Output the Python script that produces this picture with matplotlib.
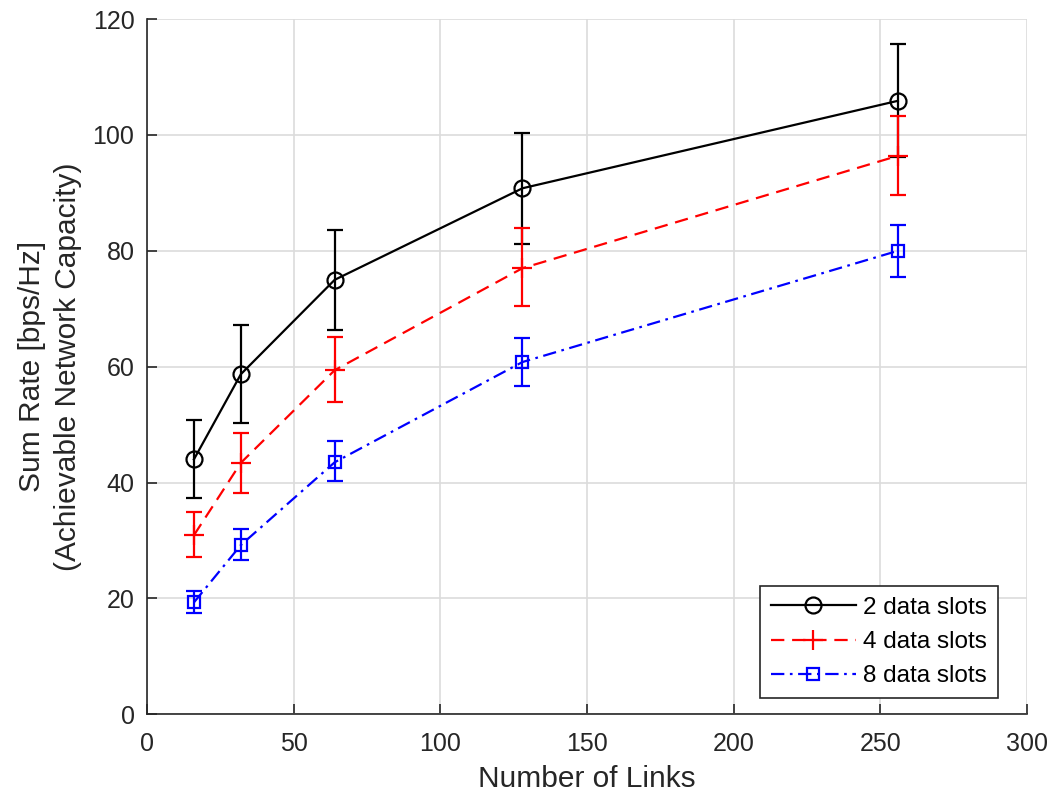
import numpy as np
import matplotlib.pyplot as plt
from matplotlib.lines import Line2D

plt.rcParams['font.family'] = ['Liberation Sans', 'DejaVu Sans']

links = [16, 32, 64, 128, 256]

rate2 = [44.0, 58.7, 75.0, 90.8, 105.9]
low2 = [37.3, 50.3, 66.3, 81.2, 96.2]
high2 = [50.8, 67.2, 83.6, 100.3, 115.7]

rate4 = [30.9, 43.4, 59.4, 77.0, 96.4]
low4 = [27.1, 38.2, 53.9, 70.5, 89.6]
high4 = [34.9, 48.5, 65.1, 83.9, 103.3]

rate8 = [19.3, 29.2, 43.5, 60.8, 80.0]
low8 = [17.5, 26.6, 40.2, 56.7, 75.4]
high8 = [21.2, 32.0, 47.2, 65.0, 84.4]

fig = plt.figure(figsize=(10.5, 7.98), dpi=100)
ax = fig.add_axes([0.14, 0.105, 0.838, 0.871])

lw = 1.6
series = [
    (rate2, low2, high2, 'k', '-', 'o', 11.5, '2 data slots'),
    (rate4, low4, high4, 'r', (0, (6, 3.5)), '+', 15, '4 data slots'),
    (rate8, low8, high8, 'b', (0, (6, 2.5, 1.2, 2.5)), 's', 9, '8 data slots'),
]
handles = []
for y, lo, hi, c, ls, m, ms, lab in series:
    y = np.array(y)
    err = [y - np.array(lo), np.array(hi) - y]
    ax.errorbar(links, y, yerr=err, color=c, linestyle=ls, marker=m,
                markersize=ms, markerfacecolor='none', markeredgewidth=lw,
                linewidth=lw, elinewidth=lw, capsize=6, capthick=lw)
    handles.append(Line2D([], [], color=c, linestyle=ls, marker=m,
                          markersize=ms, markerfacecolor='none',
                          markeredgewidth=lw, linewidth=lw, label=lab))

ax.set_xlim(0, 300)
ax.set_ylim(0, 120)
ax.set_xticks(range(0, 301, 50))
ax.set_yticks(range(0, 121, 20))
ax.grid(True, color='#dcdcdc', linewidth=1.2)
ax.set_axisbelow(True)
ax.spines['top'].set_visible(False)
ax.spines['right'].set_visible(False)
for s in ['left', 'bottom']:
    ax.spines[s].set_color('#262626')
    ax.spines[s].set_linewidth(1.2)
ax.tick_params(direction='in', labelsize=18, length=7, width=1.2,
               pad=9, colors='#262626', labelcolor='#262626')
ax.tick_params(axis='x', pad=13)
ax.set_xlabel('Number of Links', fontsize=21.5, color='#262626', labelpad=6)
ax.set_ylabel('Sum Rate [bps/Hz]\n(Achievable Network Capacity)',
              fontsize=21.5, color='#262626', labelpad=8, linespacing=1.35)

leg = ax.legend(handles=handles, loc='lower right',
                bbox_to_anchor=(0.967, 0.023), borderaxespad=0,
                fontsize=17.5, fancybox=False, edgecolor='#262626',
                framealpha=1, handlelength=3.5, handletextpad=0.3,
                labelspacing=0.5, borderpad=0.45)
leg.get_frame().set_linewidth(1.2)

fig.savefig('out.png', dpi=100)
